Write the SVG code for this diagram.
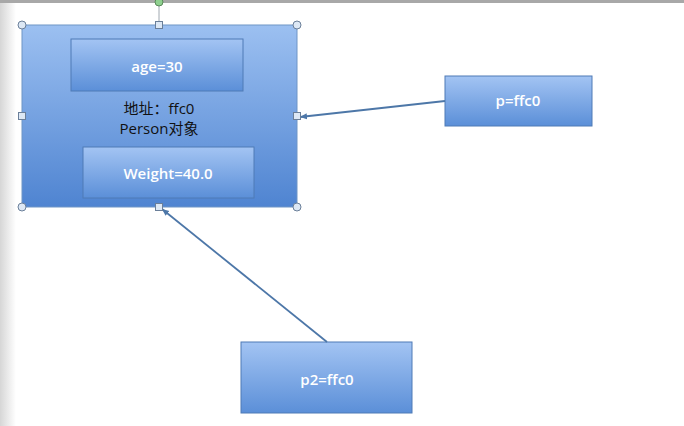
<svg xmlns="http://www.w3.org/2000/svg" width="684" height="426" viewBox="0 0 684 426">
<defs>
<linearGradient id="g" x1="0" y1="0" x2="0" y2="1">
<stop offset="0" stop-color="#a3c4f3"/>
<stop offset="1" stop-color="#5b8fd8"/>
</linearGradient>
<linearGradient id="gb" x1="0" y1="0" x2="0" y2="1">
<stop offset="0" stop-color="#9cc0f1"/>
<stop offset="1" stop-color="#4f84d1"/>
</linearGradient>
<linearGradient id="edge" x1="0" y1="0" x2="1" y2="0">
<stop offset="0" stop-color="#d6d6d6"/>
<stop offset="1" stop-color="#ffffff"/>
</linearGradient>
<marker id="ah" markerWidth="8" markerHeight="8" refX="7" refY="4" orient="auto" markerUnits="userSpaceOnUse">
<path d="M0,1 L7,4 L0,7 Z" fill="#4d77a8"/>
</marker>
<style>
.box{fill:url(#g);stroke:#4f7bb6;stroke-width:1}
.lbl{font-family:"Open Sans","Liberation Sans","Noto Sans CJK SC",sans-serif;font-size:15px;font-weight:600;fill:#ffffff;text-anchor:middle}
.blk{font-family:"Open Sans","Liberation Sans","Noto Sans CJK SC",sans-serif;font-size:15px;fill:#111111;text-anchor:middle}
.conn{stroke:#4d77a8;stroke-width:1.8;fill:none;marker-end:url(#ah)}
.hc{fill:#dde8f5;stroke:#6b7f99;stroke-width:1}
.hs{fill:#dde8f5;stroke:#6b7f99;stroke-width:1}
</style>
</defs>
<rect width="684" height="426" fill="#ffffff"/>
<rect x="0" y="0" width="16" height="426" fill="url(#edge)"/>
<rect x="0" y="0" width="684" height="3" fill="#a8a8a8"/>
<g id="person">
<rect x="22" y="25" width="275" height="182" fill="url(#gb)" stroke="#6f95c6"/>
<g id="age">
<rect class="box" x="71" y="39" width="172" height="52"/>
<text class="lbl" x="157" y="72">age=30</text>
</g>
<text class="blk" x="159" y="114">地址：ffc0</text>
<text class="blk" x="159" y="134">Person对象</text>
<g id="weight">
<rect class="box" x="83" y="147" width="171" height="51"/>
<text class="lbl" x="168" y="179">Weight=40.0</text>
</g>
</g>
<g id="p">
<rect class="box" x="445" y="76" width="147" height="50"/>
<text class="lbl" x="518" y="106">p=ffc0</text>
</g>
<g id="p2">
<rect class="box" x="241" y="342" width="171" height="71"/>
<text class="lbl" x="327" y="385">p2=ffc0</text>
</g>
<g id="connectors">
<line class="conn" x1="445" y1="101" x2="300" y2="117"/>
<line class="conn" x1="327" y1="342" x2="162" y2="209"/>
</g>
<g id="handles">
<line x1="159" y1="4" x2="159" y2="25" stroke="#a0a8b0" stroke-width="1"/>
<circle cx="159" cy="2" r="4" fill="#8fd08f" stroke="#5a8a5a"/>
<circle class="hc" cx="22" cy="25" r="4"/>
<circle class="hc" cx="297" cy="25" r="4"/>
<circle class="hc" cx="22" cy="207" r="4"/>
<circle class="hc" cx="297" cy="207" r="4"/>
<rect class="hs" x="155.5" y="21.5" width="7" height="7"/>
<rect class="hs" x="18.5" y="112.5" width="7" height="7"/>
<rect class="hs" x="293.5" y="112.5" width="7" height="7"/>
<rect class="hs" x="155.5" y="203.5" width="7" height="7"/>
</g>
</svg>
